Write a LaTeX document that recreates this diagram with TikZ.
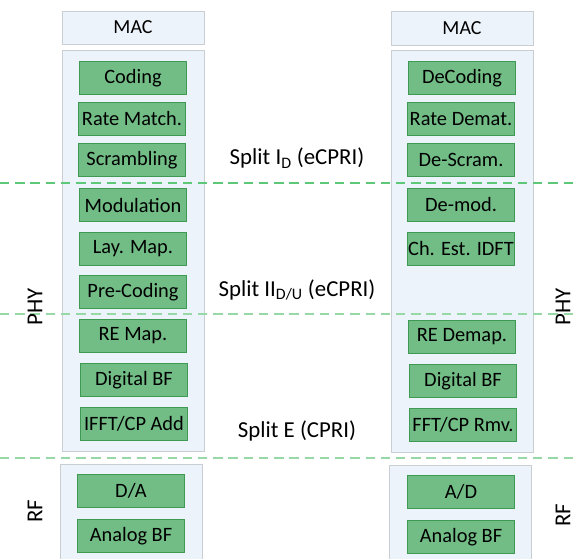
\documentclass[tikz,border=0pt]{standalone}
\usepackage{fontspec}
\setmainfont{Carlito}
\usetikzlibrary{positioning}
\definecolor{blockgreen}{HTML}{72BD86}
\definecolor{blockedge}{HTML}{3E9A52}
\definecolor{layerfill}{HTML}{EDF3FA}
\definecolor{layeredge}{HTML}{C9CED3}
\definecolor{splitline}{HTML}{5CC878}
\definecolor{splitlight}{HTML}{96D8A6}
\begin{document}
\begin{tikzpicture}[x=0.03cm,y=-0.03cm,
	block/.style={draw=blockedge,line width=0.8pt,fill=blockgreen,minimum width=3.2cm,minimum height=1.0cm,inner sep=0pt,font=\fontsize{17.4}{19}\selectfont},
	layer/.style={draw=layeredge,line width=0.8pt,fill=layerfill,inner sep=0pt,font=\fontsize{17}{19}\selectfont},
	split/.style={dash pattern=on 8pt off 5pt,line width=0.9pt},
	lbl/.style={font=\fontsize{19.5}{21}\selectfont}]

	\useasboundingbox (0,0) rectangle (579,559);

	% layer containers
	\node[layer,minimum width=4.26cm,minimum height=0.99cm] (macL) at (133,27.5) {MAC};
	\node[layer,minimum width=4.26cm,minimum height=12.03cm] (phyL) at (133,250.5) {};
	\node[layer,minimum width=4.26cm,minimum height=3.33cm] (rfL) at (131,519.5) {};
	\node[layer,minimum width=4.26cm,minimum height=1.02cm] (macR) at (462,28) {MAC};
	\node[layer,minimum width=4.26cm,minimum height=12.06cm] (phyR) at (462,251) {};
	\node[layer,minimum width=4.26cm,minimum height=3.3cm] (rfR) at (460,520) {};

	% transmitter chain
	\node[block] (coding) at (133,78) {Coding};
	\node[block] (ratematch) at (132,119) {Rate Match.};
	\node[block] (scrambling) at (132,160) {Scrambling};
	\node[block] (modulation) at (133,205) {Modulation};
	\node[block] (laymap) at (133,249) {Lay. Map.};
	\node[block] (precoding) at (133,292) {Pre-Coding};
	\node[block] (remap) at (133,336) {RE Map.};
	\node[block] (digbfL) at (134,380) {Digital BF};
	\node[block] (ifft) at (134,424) {IFFT/CP Add};
	\node[block] (da) at (131,491) {D/A};
	\node[block] (anabfL) at (131,536) {Analog BF};

	% receiver chain
	\node[block] (decoding) at (462,78) {DeCoding};
	\node[block] (ratedemat) at (461,119) {Rate Demat.};
	\node[block] (descram) at (461,160) {De-Scram.};
	\node[block] (demod) at (461,205) {De-mod.};
	\node[block] (chest) at (461,249) {Ch. Est. IDFT};
	\node[block] (redemap) at (462,337) {RE Demap.};
	\node[block] (digbfR) at (463,381) {Digital BF};
	\node[block] (fft) at (463,425) {FFT/CP Rmv.};
	\node[block] (ad) at (461,492) {A/D};
	\node[block] (anabfR) at (461,537) {Analog BF};

	% split points
	\coordinate (s1w) at (0,183);
	\coordinate (s1e) at (579,183);
	\coordinate (s2w) at (0,314);
	\coordinate (s2e) at (579,314);
	\coordinate (s3w) at (0,458);
	\coordinate (s3e) at (579,458);
	\draw[split,draw=splitline] (s1w) -- (s1e);
	\draw[split,draw=splitlight] (s2w) -- (s2e);
	\draw[split,draw=splitlight] (s3w) -- (s3e);

	\node[lbl] (splitone) at (297,158) {Split I\textsubscript{D} (eCPRI)};
	\node[lbl] (splittwo) at (297,290) {Split II\textsubscript{D/U} (eCPRI)};
	\node[lbl] (splitthree) at (297,431) {Split E (CPRI)};

	\node[lbl,rotate=90] (phyLbl) at (35,307) {PHY};
	\node[lbl,rotate=90] (rfLbl) at (35,511) {RF};
	\node[lbl,rotate=90] (phyLblR) at (563,307) {PHY};
	\node[lbl,rotate=90] (rfLblR) at (563,515) {RF};

\end{tikzpicture}
\end{document}
